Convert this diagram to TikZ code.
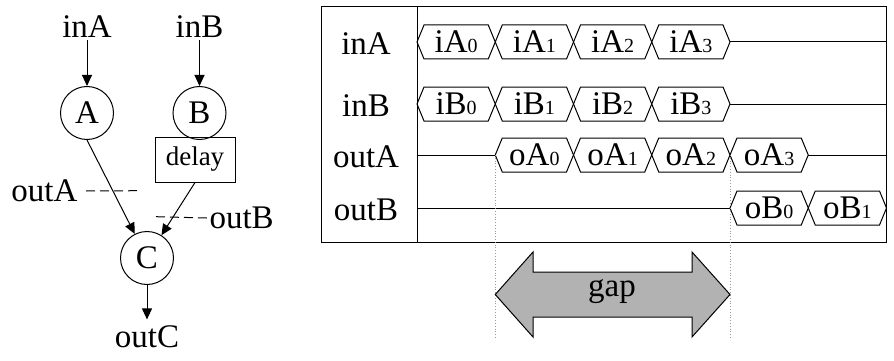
\documentclass[tikz,border=0pt]{standalone}
\usepackage{fontspec}
\setmainfont{Liberation Serif}
\usetikzlibrary{arrows.meta, positioning, calc}

\definecolor{gapfill}{gray}{0.70}
\definecolor{guidegray}{gray}{0.60}

% small index set on the baseline
\newcommand{\tidx}[1]{{\fontsize{20}{20}\selectfont #1}}

% one bus value: slot, row y, node name, text
\newcommand{\hexval}[4]{%
  \pgfmathsetmacro{\ta}{417+78.25*(#1)}
  \pgfmathsetmacro{\tb}{\ta+78.25}
  \draw[wire] (\ta,#2) -- (\ta+7,#2-17) -- (\tb-7,#2-17) -- (\tb,#2)
    -- (\tb-7,#2+17) -- (\ta+7,#2+17) -- cycle;
  \node[val] (#3) at ({(\ta+\tb)/2},#2) {#4};
}

\begin{document}
\begin{tikzpicture}[x=1pt, y=-1pt, line width=1pt,
    every node/.style={inner sep=2pt, font=\fontsize{33}{36}\selectfont},
    proc/.style={draw, circle, minimum size=53pt, inner sep=0pt},
    flow/.style={-{Triangle[length=11pt,width=10pt]}},
    probe/.style={dash pattern=on 9pt off 5pt},
    wire/.style={line width=1pt},
    guide/.style={guidegray, dotted, line width=0.8pt},
    val/.style={inner sep=0pt}]
  \useasboundingbox (0,0) rectangle (894,361);

  % dataflow graph
  \node (inA) at (87,27) {inA};
  \node (inB) at (199.5,27) {inB};
  \node[proc] (A) at (87,113) {A};
  \node[proc] (B) at (199.5,113) {B};
  \node[draw, minimum width=80pt, minimum height=45pt, inner sep=0pt,
        font=\fontsize{27}{30}\selectfont] (delay) at (195,159.5) {delay};
  \node[proc] (C) at (147,258) {C};
  \node (outC) at (147,337) {outC};
  \draw[flow] (inA) -- (A);
  \draw[flow] (inB) -- (B);
  \draw[flow] (A.south) -- (C);
  \draw[flow] (delay.south) -- (C);
  \draw[flow, shorten >=4pt] (C) -- (outC);

  % probe points on the two edges
  \node[anchor=east] (outAl) at (80,191) {outA};
  \node[anchor=west] (outBl) at (207,218) {outB};
  \coordinate (outAend) at (138,190.7);
  \coordinate (outBend) at (156,216.7);
  \draw[probe] (outAl.east) ++(6,0) coordinate (outAbeg) -- (outAend);
  \draw[probe] (outBend) -- (outBl.west);

  % timing chart frame
  \draw (321,7) rectangle (886,242);
  \draw (417,7) -- (417,242);
  \node (lblinA) at (366,44) {inA};
  \node (lblinB) at (366,106) {inB};
  \node (lbloutA) at (366,157) {outA};
  \node (lbloutB) at (366,210) {outB};

  % bus values
  \foreach \k in {0,...,3} {
    \hexval{\k}{42}{iA\k}{iA\tidx{\k}}
    \hexval{\k}{104}{iB\k}{iB\tidx{\k}}
    \hexval{\k+1}{155}{oA\k}{oA\tidx{\k}}
  }
  \foreach \k in {0,1} {
    \hexval{\k+4}{208}{oB\k}{oB\tidx{\k}}
  }
  \draw[wire] (730,42) -- (886,42);
  \draw[wire] (730,104) -- (886,104);
  \draw[wire] (417,155) -- (495.25,155);
  \draw[wire] (808.25,155) -- (886,155);
  \draw[wire] (417,208) -- (730,208);

  % latency markers
  \draw[guide] (495.25,155) -- (495.25,338);
  \draw[guide] (730,155) -- (730,338);
  \draw[fill=gapfill] (495.25,294.5) -- (533,252) -- (533,272) -- (692,272)
    -- (692,252) -- (730,294.5) -- (692,337) -- (692,317) -- (533,317)
    -- (533,337) -- cycle;
  \node (gap) at (612,292) {gap};
\end{tikzpicture}
\end{document}
